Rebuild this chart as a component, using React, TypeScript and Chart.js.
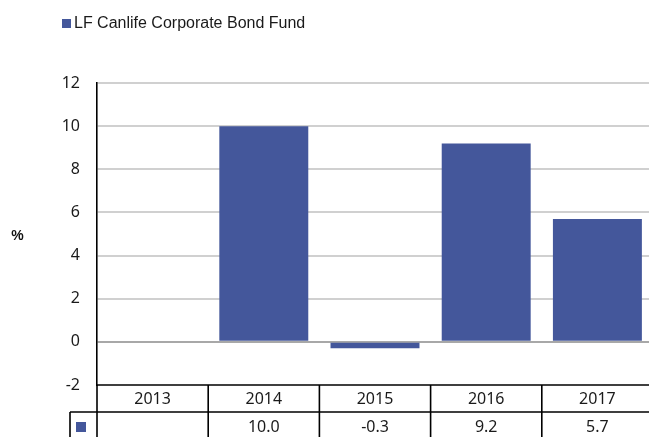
import React, { useEffect, useRef } from "react";
import { Chart, registerables } from "chart.js";

Chart.register(...registerables);

const categories = ["2013", "2014", "2015", "2016", "2017"];
const seriesName = "LF Canlife Corporate Bond Fund";
const values: (number | null)[] = [null, 10.0, -0.3, 9.2, 5.7];
const tableValues = ["", "10.0", "-0.3", "9.2", "5.7"];
const yMin = -2;
const yMax = 12;
const yStep = 2;
const yTitle = "%";

const BAR = "#44579b";
const W = 670;
const H = 437;

export default function App() {
  const ref = useRef<HTMLCanvasElement | null>(null);
  useEffect(() => {
    if (!ref.current) return;
    const tablePlugin = {
      id: "tablePlugin",
      afterDraw(chart: any) {
        const ctx = chart.ctx;
        const area = chart.chartArea;
        const x = chart.scales.x;
        ctx.save();
        // y title
        ctx.fillStyle = "#111";
        ctx.font = "bold 14px 'Liberation Sans Narrow', 'Liberation Sans'";
        ctx.textAlign = "center";
        ctx.textBaseline = "middle";
        ctx.fillText(yTitle, 17.5, 236);
        // legend
        ctx.fillStyle = BAR;
        ctx.fillRect(62, 19, 9, 9);
        ctx.fillStyle = "#1a1a1a";
        ctx.font = "16px 'Liberation Sans'";
        ctx.textAlign = "left";
        ctx.fillText(seriesName, 74, 23.5);
        // table
        const left = area.left;
        const right = area.right;
        const n = categories.length;
        const w = (right - left) / n;
        const r1 = area.bottom;
        const r2 = 412;
        ctx.strokeStyle = "#000";
        ctx.lineWidth = 1.6;
        ctx.beginPath();
        ctx.moveTo(left, r1);
        ctx.lineTo(right, r1);
        ctx.moveTo(70, r2);
        ctx.lineTo(right, r2);
        for (let i = 0; i <= n; i++) {
          const xx = left + i * w;
          ctx.moveTo(xx, r1);
          ctx.lineTo(xx, H);
        }
        ctx.moveTo(70, r2);
        ctx.lineTo(70, H);
        ctx.stroke();
        ctx.fillStyle = BAR;
        ctx.fillRect(76, 422, 10, 10);
        ctx.fillStyle = "#1a1a1a";
        ctx.font = "16px 'Noto Sans'";
        ctx.textAlign = "center";
        ctx.textBaseline = "middle";
        categories.forEach((c, i) => {
          const cx = x.getPixelForValue(i);
          ctx.fillText(c, cx, (r1 + r2) / 2 + 0.5);
          ctx.fillText(tableValues[i], cx, 427);
        });
        ctx.restore();
      },
    };
    const chart = new Chart(ref.current, {
      type: "bar",
      data: {
        labels: categories,
        datasets: [
          {
            label: seriesName,
            data: values,
            backgroundColor: BAR,
            borderWidth: 0,
            categoryPercentage: 1,
            barPercentage: 0.8,
          },
        ],
      },
      options: {
        animation: false,
        responsive: false,
        devicePixelRatio: 1,
        layout: { padding: { top: 83, bottom: H - 385, left: 0, right: W - 653 } },
        plugins: {
          legend: { display: false },
          tooltip: { enabled: false },
        },
        scales: {
          x: { display: false },
          y: {
            min: yMin,
            max: yMax,
            afterFit: (s: any) => {
              s.width = 97;
            },
            border: { display: true, color: "#000", width: 1.6 },
            grid: {
              drawTicks: false,
              lineWidth: 2,
              color: (c: any) =>
                c.tick && c.tick.value === 0
                  ? "#a8a8a8"
                  : c.tick && c.tick.value === yMin
                  ? "rgba(0,0,0,0)"
                  : "#d0d0d0",
            },
            ticks: {
              stepSize: yStep,
              padding: 17,
              color: "#1a1a1a",
              font: { family: "'Noto Sans'", size: 16 },
            },
          },
        },
      },
      plugins: [tablePlugin],
    });
    return () => chart.destroy();
  }, []);
  return (
    <div
      style={{
        position: "fixed",
        left: 0,
        top: 0,
        width: 649,
        height: 437,
        overflow: "hidden",
        background: "#fff",
      }}
    >
      <canvas ref={ref} width={W} height={H} style={{ display: "block", width: W, height: H }} />
    </div>
  );
}
